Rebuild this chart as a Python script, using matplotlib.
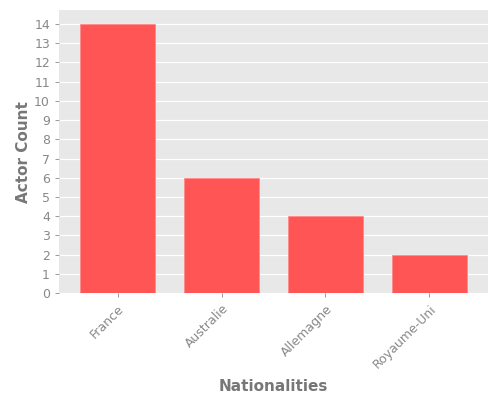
import numpy as np
import matplotlib
matplotlib.use("Agg")
import matplotlib.pyplot as plt

# data
nationalities = ["France", "Australie", "Allemagne", "Royaume-Uni"]
actor_counts = [14, 6, 4, 2]

fig = plt.figure(figsize=(5, 4), dpi=100)
ax = fig.add_axes([0.118, 0.267, 0.858, 0.708])
ax.set_facecolor("#e8e8e8")

x = np.arange(len(nationalities))
ax.bar(x, actor_counts, width=0.72, color="#ff5555",
       edgecolor="#ff8a8a", linewidth=0.6, zorder=3)

ax.set_xlim(-0.565, len(nationalities) - 0.435)
ax.set_ylim(0, 14.72)
ax.set_yticks(range(0, 15))
ax.set_xticks(x)
ax.set_xticklabels(nationalities, rotation=45, ha="right",
                   rotation_mode="anchor")

ax.grid(axis="y", color="white", linewidth=0.9, zorder=0)
ax.set_axisbelow(True)
for s in ax.spines.values():
    s.set_visible(False)
ax.tick_params(colors="#888888", labelsize=9, length=3, width=0.6,
               labelcolor="#888888")

ax.set_ylabel("Actor Count", fontsize=11, fontweight="bold",
              color="#777777", labelpad=2)
ax.set_xlabel("Nationalities", fontsize=11, fontweight="bold",
              color="#777777", labelpad=6)

plt.savefig("out.png", dpi=100)
